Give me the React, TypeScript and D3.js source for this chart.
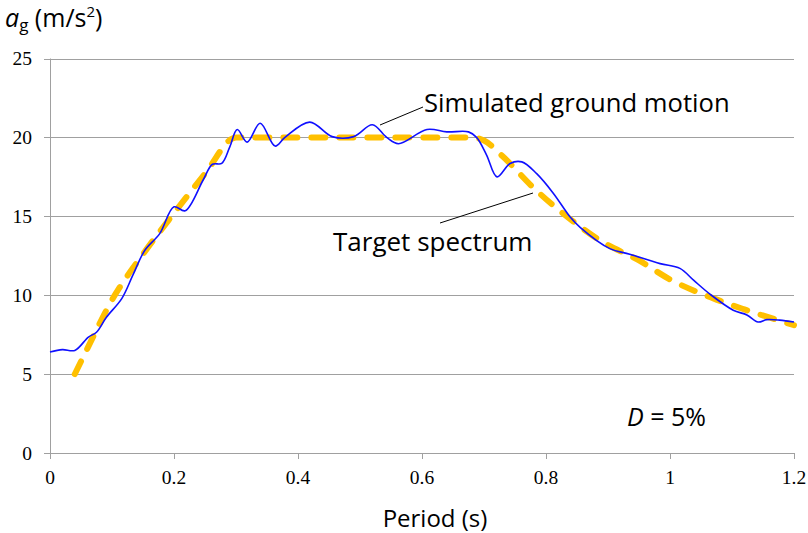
import React from "react";
import * as d3 from "d3";

// simulated ground motion spectrum (period s, accel m/s2)
const simPeriod = [
  0, 0.02, 0.04, 0.062, 0.075, 0.091, 0.116, 0.134, 0.153, 0.177, 0.2, 0.218,
  0.247, 0.262, 0.277, 0.29, 0.302, 0.318, 0.339, 0.363, 0.379, 0.419, 0.455,
  0.49, 0.52, 0.543, 0.562, 0.608, 0.64, 0.675, 0.688, 0.704, 0.721, 0.742,
  0.761, 0.785, 0.812, 0.839, 0.855, 0.903, 0.935, 0.984, 1.016, 1.038, 1.065,
  1.102, 1.124, 1.142, 1.156, 1.177, 1.2,
];
const simAccel = [
  6.4, 6.55, 6.5, 7.35, 7.65, 8.6, 9.8, 11.3, 12.85, 13.9, 15.6, 15.35, 17.3,
  18.3, 18.35, 19.4, 20.5, 19.7, 20.9, 19.45, 20.0, 20.97, 20.05, 20.05, 20.8,
  20.0, 19.6, 20.5, 20.35, 20.35, 20.0, 18.9, 17.5, 18.35, 18.45, 17.7, 16.45,
  14.95, 14.3, 12.95, 12.6, 12.0, 11.7, 10.95, 10.05, 9.05, 8.75, 8.3, 8.45,
  8.42, 8.3,
];

// target (design) spectrum
const targetPeriod = [
  0.04, 0.06, 0.1, 0.15, 0.2, 0.25, 0.3, 0.68, 0.7, 0.73, 0.78, 0.83, 0.89,
  0.95, 1.0, 1.07, 1.12, 1.2,
];
const targetAccel = [
  5, 6.6, 9.7, 12.6, 15.2, 17.7, 20, 20, 19.8, 18.8, 16.8, 15.1, 13.4, 12.2,
  11.0, 9.8, 9.1, 8.1,
];

const xTicks = [0, 0.2, 0.4, 0.6, 0.8, 1, 1.2];
const yTicks = [0, 5, 10, 15, 20, 25];

const W = 808;
const H = 533;
const sans = "'Open Sans', sans-serif";
const serif = "'Liberation Serif', 'Times New Roman', serif";

export default function App() {
  const x = d3.scaleLinear().domain([0, 1.2]).range([50, 794]);
  const y = d3.scaleLinear().domain([0, 25]).range([453, 58.5]);

  const sim = simPeriod.map((t, i) => [t, simAccel[i]] as [number, number]);
  const target = targetPeriod.map((t, i) => [t, targetAccel[i]] as [number, number]);

  const simLine = d3
    .line<[number, number]>()
    .x((d) => x(d[0]))
    .y((d) => y(d[1]))
    .curve(d3.curveCatmullRom.alpha(0.5));
  const targetLine = d3
    .line<[number, number]>()
    .x((d) => x(d[0]))
    .y((d) => y(d[1]))
    .curve(d3.curveMonotoneX);

  const grid = "#a0a0a0";

  return (
    <svg
      width={W}
      height={H}
      style={{ position: "absolute", left: 0, top: 0, background: "#fff" }}
    >
      {/* horizontal gridlines + y ticks */}
      {yTicks.map((v) => (
        <g key={v}>
          <line
            x1={44}
            x2={794}
            y1={Math.round(y(v)) + 0.5}
            y2={Math.round(y(v)) + 0.5}
            stroke={grid}
            strokeWidth={1}
          />
          <text
            x={32}
            y={y(v)}
            textAnchor="end"
            dominantBaseline="central"
            fontFamily={serif}
            fontSize={19.5}
            fill="#000"
          >
            {v}
          </text>
        </g>
      ))}
      {/* y axis line */}
      <line x1={50.5} x2={50.5} y1={y(25)} y2={459} stroke={grid} />
      {/* x ticks */}
      {xTicks.map((t) => (
        <g key={t}>
          <line
            x1={Math.round(x(t)) + 0.5}
            x2={Math.round(x(t)) + 0.5}
            y1={453}
            y2={459}
            stroke={grid}
          />
          <text
            x={x(t)}
            y={484}
            textAnchor="middle"
            fontFamily={serif}
            fontSize={19.5}
            fill="#000"
          >
            {t}
          </text>
        </g>
      ))}

      {/* target spectrum (dashed) */}
      <path
        d={targetLine(target) || ""}
        fill="none"
        stroke="#FFC000"
        strokeWidth={6}
        strokeDasharray="14 14"
        strokeLinecap="round"
      />
      {/* simulated ground motion */}
      <path
        d={simLine(sim) || ""}
        fill="none"
        stroke="#1010FF"
        strokeWidth={1.6}
      />

      {/* annotations */}
      <line x1={380} y1={125} x2={423} y2={107} stroke="#000" strokeWidth={1} />
      <text x={424} y={112} fontFamily={sans} fontSize={25.6} fill="#000">
        Simulated ground motion
      </text>
      <line x1={440} y1={223} x2={533} y2={193} stroke="#000" strokeWidth={1} />
      <text x={333} y={251} fontFamily={sans} fontSize={26} fill="#000">
        Target spectrum
      </text>
      <text x={627} y={426} fontFamily={sans} fontSize={25} fill="#000">
        <tspan fontStyle="italic">D</tspan> = 5%
      </text>

      {/* axis titles */}
      <text x={435} y={527} textAnchor="middle" fontFamily={sans} fontSize={24} fill="#000">
        Period (s)
      </text>
      <text x={5} y={27} fontFamily={sans} fontSize={25} fill="#000">
        <tspan fontStyle="italic">a</tspan>
        <tspan fontSize={17} dy={4}>g</tspan>
        <tspan dy={-4}> (m/s</tspan>
        <tspan fontSize={15} dy={-10}>2</tspan>
        <tspan dy={10}>)</tspan>
      </text>
    </svg>
  );
}
